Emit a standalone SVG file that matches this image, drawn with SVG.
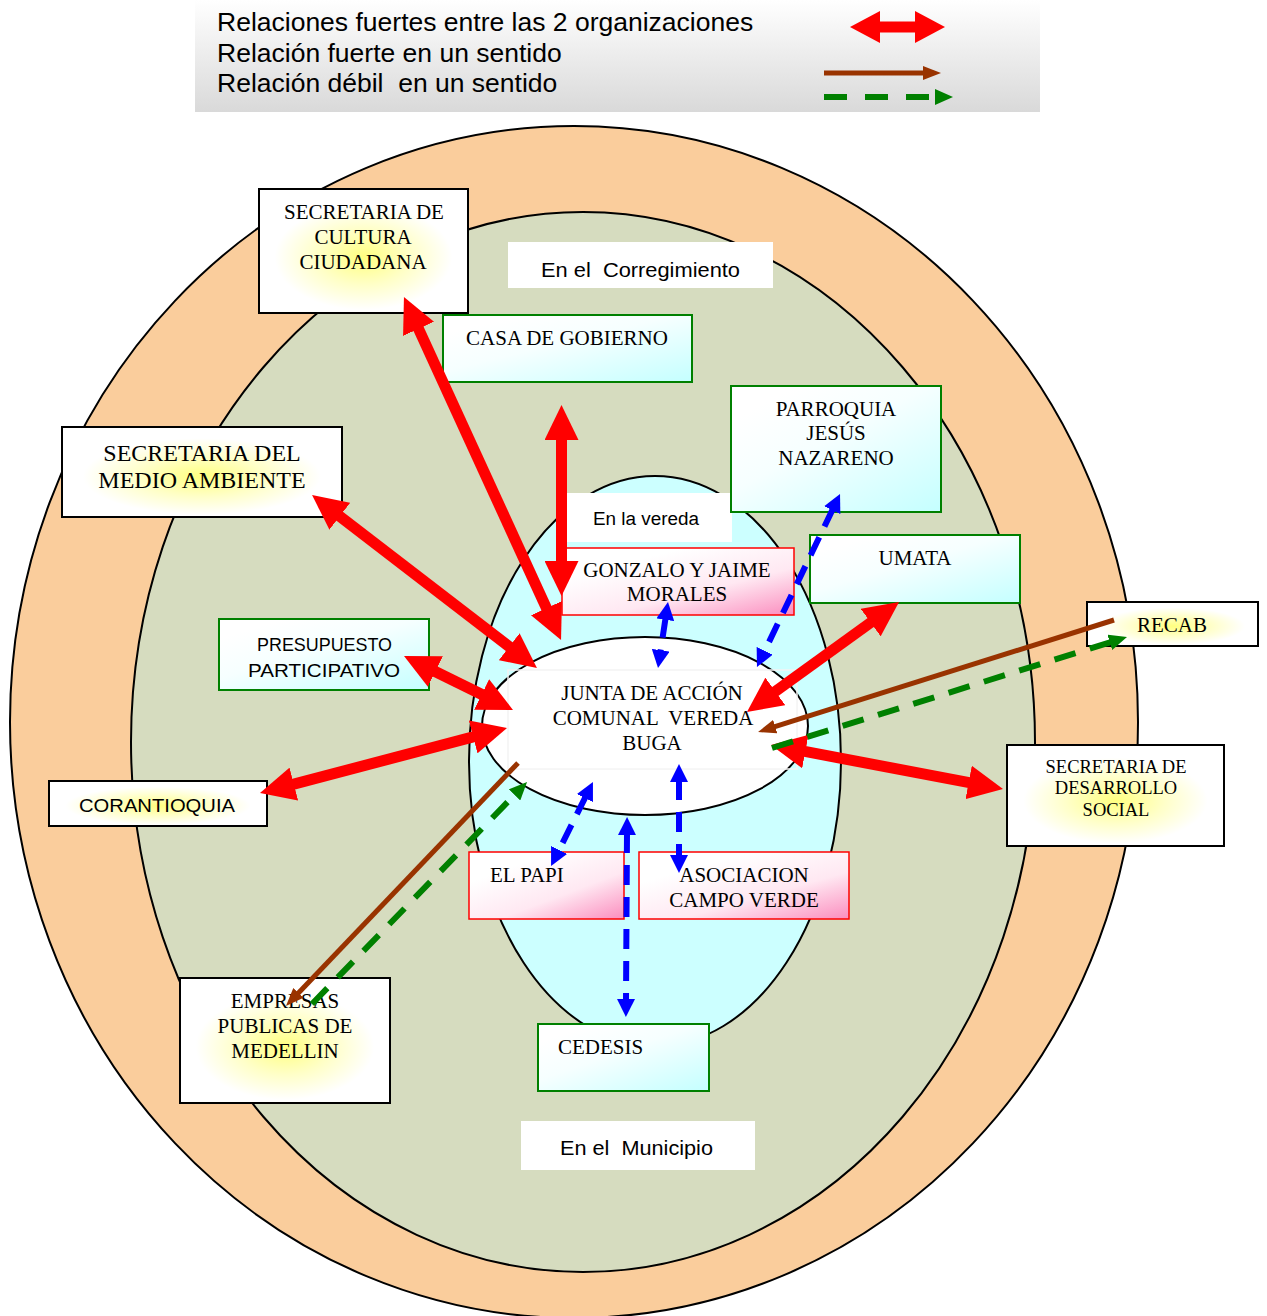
<svg xmlns="http://www.w3.org/2000/svg" width="1267" height="1316" viewBox="0 0 1267 1316">
<defs>
<style>
.zone{stroke:#000;stroke-width:2}
.t{font-family:"Liberation Serif","Times New Roman",serif;font-size:21px;fill:#000;text-anchor:middle}
.t24{font-size:24px}
.t18{font-size:18.5px}
.ts{font-family:"Liberation Serif","Times New Roman",serif;font-size:21px;fill:#000;text-anchor:start}
.c{font-family:"Liberation Sans",Arial,sans-serif;fill:#000}
.lg{font-family:"Liberation Sans",Arial,sans-serif;font-size:26.5px;fill:#000;white-space:pre}
.bk{stroke:#000;stroke-width:2;fill:url(#yellow)}
.gr{stroke:#008000;stroke-width:2;fill:url(#cyan)}
.rd{stroke:#ff0000;stroke-width:1.5;fill:url(#pink)}
.lab{fill:#fff}
.red{stroke:#ff0000;stroke-width:11;fill:none;marker-start:url(#mRed);marker-end:url(#mRed)}
.brown{stroke:#993300;stroke-width:5;fill:none;marker-end:url(#mBrown)}
.green{stroke:#008000;stroke-width:6;fill:none;stroke-dasharray:22 15;marker-end:url(#mGreen)}
.blue{stroke:#0000ff;stroke-width:6;fill:none;stroke-dasharray:20 12;marker-start:url(#mBlue);marker-end:url(#mBlue)}
</style>
<linearGradient id="legendBg" x1="0" y1="0" x2="0" y2="1"><stop offset="0" stop-color="#ffffff"/><stop offset="1" stop-color="#d9d9d9"/></linearGradient>
<radialGradient id="yellow" cx="0.5" cy="0.55" r="0.5"><stop offset="0" stop-color="#ffff80"/><stop offset="0.45" stop-color="#ffffc8"/><stop offset="0.85" stop-color="#ffffff"/></radialGradient>
<linearGradient id="cyan" x1="0.2" y1="0.1" x2="1" y2="1"><stop offset="0" stop-color="#ffffff"/><stop offset="0.35" stop-color="#f6ffff"/><stop offset="1" stop-color="#c4ffff"/></linearGradient>
<linearGradient id="pink" x1="0.3" y1="0.2" x2="1" y2="1"><stop offset="0" stop-color="#ffffff"/><stop offset="0.5" stop-color="#ffe8f2"/><stop offset="1" stop-color="#fb8dbe"/></linearGradient>
<clipPath id="clipCorr"><rect x="508" y="242" width="265" height="39"/></clipPath>
<marker id="mRed" markerUnits="userSpaceOnUse" viewBox="0 0 35 34" markerWidth="35" markerHeight="34" refX="2" refY="17" orient="auto-start-reverse"><path d="M0,0 L35,17 L0,34 z" fill="#ff0000"/></marker>
<marker id="mBrown" markerUnits="userSpaceOnUse" viewBox="0 0 18 14" markerWidth="18" markerHeight="14" refX="2" refY="7" orient="auto-start-reverse"><path d="M0,0 L18,7 L0,14 z" fill="#993300"/></marker>
<marker id="mGreen" markerUnits="userSpaceOnUse" viewBox="0 0 18 16" markerWidth="18" markerHeight="16" refX="2" refY="8" orient="auto-start-reverse"><path d="M0,0 L18,8 L0,16 z" fill="#008000"/></marker>
<marker id="mBlue" markerUnits="userSpaceOnUse" viewBox="0 0 18 18" markerWidth="18" markerHeight="18" refX="2" refY="9" orient="auto-start-reverse"><path d="M0,0 L18,9 L0,18 z" fill="#0000ff"/></marker>
</defs>

<rect width="1267" height="1316" fill="#ffffff"/>

<g id="legend">
<rect x="195" y="0" width="845" height="112" fill="url(#legendBg)"/>
<text class="lg" x="217" y="31">Relaciones fuertes entre las 2 organizaciones</text>
<text class="lg" x="217" y="62">Relación fuerte en un sentido</text>
<text class="lg" x="217" y="92">Relación débil  en un sentido</text>
<polygon points="850,27 880,11 880,21.5 915,21.5 915,11 945,27 915,43 915,32.5 880,32.5 880,43" fill="#ff0000"/>
<line x1="824" y1="73" x2="925" y2="73" stroke="#993300" stroke-width="5" marker-end="url(#mBrown)"/>
<line x1="824" y1="97" x2="937" y2="97" stroke="#008000" stroke-width="6" stroke-dasharray="23 18" marker-end="url(#mGreen)"/>
</g>

<g id="zones">
<ellipse class="zone" cx="574" cy="722" rx="564" ry="596" fill="#facd9c"/>
<ellipse class="zone" cx="583" cy="742" rx="452" ry="530" fill="#d6dcbf"/>
<ellipse class="zone" cx="655" cy="761" rx="186" ry="285" fill="#ccffff"/>
</g>

<g id="label-corregimiento">
<rect class="lab" x="508" y="242" width="265" height="46"/>
<text class="c" x="541" y="277" font-size="20" textLength="199" lengthAdjust="spacingAndGlyphs" clip-path="url(#clipCorr)" style="white-space:pre">En el  Corregimiento</text>
</g>
<g id="label-vereda">
<rect class="lab" x="567" y="493" width="165" height="49"/>
<text class="c" x="593" y="525" font-size="18" textLength="106" lengthAdjust="spacingAndGlyphs">En la vereda</text>
</g>
<g id="label-municipio">
<rect class="lab" x="521" y="1121" width="234" height="49"/>
<text class="c" x="560" y="1155" font-size="20" textLength="153" lengthAdjust="spacingAndGlyphs" style="white-space:pre">En el  Municipio</text>
</g>

<g id="junta">
<ellipse cx="645" cy="726" rx="163" ry="89" fill="#ffffff" stroke="#000" stroke-width="2"/>
<rect x="508" y="670" width="289" height="99" fill="none" stroke="#f4f4f4" stroke-width="1.5"/>
<text class="t" x="652" y="700">JUNTA DE ACCIÓN</text>
<text class="t" x="653" y="725" style="white-space:pre">COMUNAL  VEREDA</text>
<text class="t" x="652" y="750">BUGA</text>
</g>

<g id="cultura">
<rect class="bk" x="259" y="189" width="209" height="124"/>
<text class="t" x="364" y="219">SECRETARIA DE</text>
<text class="t" x="363" y="244">CULTURA</text>
<text class="t" x="363" y="269">CIUDADANA</text>
</g>
<g id="medio-ambiente">
<rect class="bk" x="62" y="427" width="280" height="90"/>
<text class="t t24" x="202" y="461">SECRETARIA DEL</text>
<text class="t t24" x="202" y="488">MEDIO AMBIENTE</text>
</g>
<g id="presupuesto">
<rect class="gr" x="219" y="619" width="210" height="71"/>
<text class="c" x="257" y="651" font-size="18" textLength="135" lengthAdjust="spacingAndGlyphs">PRESUPUESTO</text>
<text class="c" x="248" y="677" font-size="18" textLength="152" lengthAdjust="spacingAndGlyphs">PARTICIPATIVO</text>
</g>
<g id="corantioquia">
<rect class="bk" x="49" y="781" width="218" height="45"/>
<text class="c" x="79" y="812" font-size="18" textLength="156" lengthAdjust="spacingAndGlyphs">CORANTIOQUIA</text>
</g>
<g id="casa-gobierno">
<rect class="gr" x="443" y="315" width="249" height="67"/>
<text class="t" x="567" y="345">CASA DE GOBIERNO</text>
</g>
<g id="parroquia">
<rect class="gr" x="731" y="386" width="210" height="126"/>
<text class="t" x="836" y="416">PARROQUIA</text>
<text class="t" x="836" y="440">JESÚS</text>
<text class="t" x="836" y="465">NAZARENO</text>
</g>
<g id="umata">
<rect class="gr" x="810" y="535" width="210" height="68"/>
<text class="t" x="915" y="565">UMATA</text>
</g>
<g id="recab">
<rect class="bk" x="1087" y="602" width="171" height="44"/>
<text class="t" x="1172" y="632">RECAB</text>
</g>
<g id="desarrollo-social">
<rect class="bk" x="1007" y="745" width="217" height="101"/>
<text class="t t18" x="1116" y="773">SECRETARIA DE</text>
<text class="t t18" x="1116" y="794">DESARROLLO</text>
<text class="t t18" x="1116" y="816">SOCIAL</text>
</g>
<g id="empresas-publicas">
<rect class="bk" x="180" y="978" width="210" height="125"/>
<text class="t" x="285" y="1008">EMPRESAS</text>
<text class="t" x="285" y="1033">PUBLICAS DE</text>
<text class="t" x="285" y="1058">MEDELLIN</text>
</g>
<g id="cedesis">
<rect class="gr" x="538" y="1024" width="171" height="67"/>
<text class="ts" x="558" y="1054">CEDESIS</text>
</g>
<g id="gonzalo">
<rect class="rd" x="562" y="548" width="232" height="67"/>
<text class="t" x="677" y="577">GONZALO Y JAIME</text>
<text class="t" x="677" y="601">MORALES</text>
</g>
<g id="el-papi">
<rect class="rd" x="469" y="852" width="155" height="67"/>
<text class="ts" x="490" y="882">EL PAPI</text>
</g>
<g id="asociacion">
<rect class="rd" x="639" y="852" width="210" height="67"/>
<text class="t" x="744" y="882">ASOCIACION</text>
<text class="t" x="744" y="907">CAMPO VERDE</text>
</g>

<g id="connectors">
<line class="red" x1="417.7" y1="327" x2="547.3" y2="610"/>
<line class="red" x1="561.5" y1="438" x2="561.5" y2="563"/>
<line class="red" x1="338.2" y1="515.1" x2="510.8" y2="647.9"/>
<line class="red" x1="433.6" y1="670.7" x2="483.4" y2="695.3"/>
<line class="red" x1="291.9" y1="784.6" x2="475.1" y2="736.4"/>
<line class="red" x1="872.3" y1="621.4" x2="773.7" y2="692.6"/>
<line class="red" x1="970.6" y1="782.8" x2="803.4" y2="751.2"/>
<line class="brown" x1="1114" y1="620" x2="773.3" y2="727.2"/>
<line class="brown" x1="518" y1="763" x2="297" y2="994.4"/>
<line class="green" x1="772" y1="748" x2="1111.7" y2="641.8"/>
<line class="green" x1="312" y1="1004" x2="515.9" y2="793.5"/>
<line class="blue" x1="665.6" y1="617.8" x2="660.4" y2="652.2"/>
<line class="blue" x1="833.1" y1="508.4" x2="763.9" y2="652.6"/>
<line class="blue" x1="585.8" y1="796.3" x2="558.2" y2="851.7"/>
<line class="blue" x1="679" y1="780" x2="679" y2="857"/>
<line class="blue" x1="627" y1="833" x2="626" y2="1001"/>
</g>
</svg>
